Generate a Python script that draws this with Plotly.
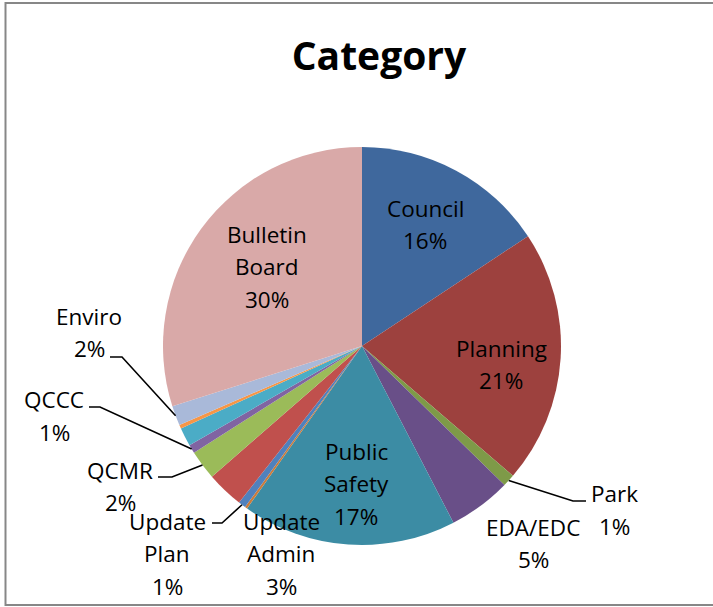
import math
import plotly.graph_objects as go

# Share of items by category (percent), in clockwise order from 12 o'clock
categories = [
    "Council", "Planning", "Park", "EDA/EDC", "Public Safety", "Other A",
    "Update Plan", "Update Admin", "QCMR", "QCCC", "Other B", "Other C",
    "Enviro", "Bulletin Board",
]
shares = [15.7, 20.6, 1.0, 5.1, 17.4, 0.2, 0.6, 3.0, 2.4, 0.7, 1.5, 0.3, 1.6, 29.9]
colors = [
    "#3F689D", "#9D413E", "#7E9A48", "#694F88", "#3C8CA4", "#CB7B3A",
    "#4F81BD", "#C0504D", "#9BBB59", "#8064A2", "#4BACC6", "#F79646",
    "#A9B9D9", "#D9A9A8",
]

W, H = 713, 607
CX, CY, R = 362.0, 346.0, 199.0          # pie centre and radius in pixels
FONT = "Open Sans"
LINE_STEP = 32.6                          # label line spacing in pixels

# label placement: category -> (centre x, first-line centre y, leader elbow or None)
label_layout = {
    "Council":        (425, 208, None),
    "Planning":       (501, 348, None),
    "Bulletin Board": (267, 234, None),
    "Public Safety":  (356, 451, None),
    "EDA/EDC":        (533, 527, None),
    "Update Admin":   (281, 521, None),
    "Park":           (614, 493.5, [(586, 501), (573, 501)]),
    "Update Plan":    (167, 521, [(212, 523), (222, 523)]),
    "QCMR":           (120, 470, [(158, 477), (172, 477)]),
    "QCCC":           (54, 400, [(89, 407), (100, 407)]),
    "Enviro":         (89, 316, [(110, 357), (122, 357)]),
}


def px(x, y):
    return x / W, 1 - y / H


total = sum(shares)
fig = go.Figure(go.Pie(
    labels=categories,
    values=shares,
    sort=False,
    direction="clockwise",
    rotation=0,
    marker=dict(colors=colors, line=dict(width=0)),
    textinfo="none",
    hoverinfo="label+percent",
    showlegend=False,
    domain=dict(x=[(CX - R) / W, (CX + R) / W],
                y=[1 - (CY + R) / H, 1 - (CY - R) / H]),
))

annotations = []
shapes = []
cum = 0.0
for name, v in zip(categories, shares):
    mid = (cum + v / 2) / total * 2 * math.pi
    cum += v
    if name not in label_layout:
        continue
    lx, ly, elbow = label_layout[name]
    lines = name.split(" ") if name != "EDA/EDC" else [name]
    lines.append(f"{round(v / total * 100):d}%")
    for i, t in enumerate(lines):
        ax, ay = px(lx, ly + i * LINE_STEP)
        annotations.append(dict(
            text=t, x=ax, y=ay, xref="paper", yref="paper",
            xanchor="center", yanchor="middle", showarrow=False,
            font=dict(family=FONT, size=22.5, color="#000000"),
        ))
    if elbow:
        ex, ey = CX + R * math.sin(mid), CY - R * math.cos(mid)
        pts = [px(*p) for p in elbow] + [px(ex, ey)]
        path = "M " + " L ".join(f"{a:.5f},{b:.5f}" for a, b in pts)
        shapes.append(dict(type="path", path=path, xref="paper", yref="paper",
                           line=dict(color="#000000", width=1.6)))

# chart frame
x0, y1 = px(5.5, 3)
_, y0 = px(0, 605)
shapes.append(dict(type="rect", xref="paper", yref="paper",
                   x0=x0, x1=1.02, y0=y0, y1=y1,
                   line=dict(color="#878787", width=2)))

fig.update_layout(
    width=W, height=H,
    margin=dict(l=0, r=0, t=0, b=0),
    paper_bgcolor="#FFFFFF",
    plot_bgcolor="#FFFFFF",
    title=dict(text="<b>Category</b>", x=379 / W, xanchor="center",
               y=1 - 56 / H, yanchor="middle",
               font=dict(family=FONT, size=39, color="#000000")),
    annotations=annotations,
    shapes=shapes,
)

fig.write_html("out.html")
